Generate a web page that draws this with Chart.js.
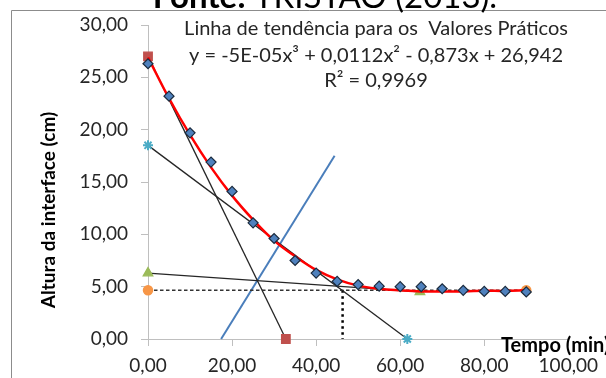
<!DOCTYPE html>
<html>
<head>
<meta charset="utf-8">
<script src="https://cdn.jsdelivr.net/npm/chart.js@4.4.0/dist/chart.umd.min.js"></script>
<style>
  body { margin: 0; background: #fff; }
</style>
</head>
<body>
<canvas id="sedimentacao" width="606" height="378"></canvas>
<script>
// Valores
var tempo = [0, 5, 10, 15, 20, 25, 30, 35, 40, 45, 50, 55, 60, 65, 70, 75, 80, 85, 90];
var altura = [26.3, 23.2, 19.7, 16.9, 14.1, 11.1, 9.6, 7.5, 6.3, 5.5, 5.2, 5.05, 5.0, 5.0, 4.8, 4.65, 4.55, 4.55, 4.5];
var tendencia = [26.9, 23.0, 19.5, 16.4, 13.7, 11.4, 9.4, 7.9, 6.6, 5.7, 5.1, 4.8, 4.65, 4.55, 4.55, 4.55, 4.6, 4.6, 4.65];

// Retas auxiliares (inicio, fim)
var tangSupX = [0, 32.8], tangSupY = [27.0, 0];
var tangMeioX = [0, 61.7], tangMeioY = [18.5, 0];
var tangInfX = [0, 64.7], tangInfY = [6.3, 4.5];
var alturaFinalX = [0, 90], alturaFinalY = [4.65, 4.65];
var tempoCritX = [46.3, 46.3], tempoCritY = [4.65, 0];
var bissetrizX = [17.4, 44.4], bissetrizY = [0, 17.5];

var xTicks = [0, 20, 40, 60, 80, 100];
var yTicks = [0, 5, 10, 15, 20, 25, 30];

function pontos(xs, ys) {
  var out = [];
  for (var i = 0; i < xs.length; i++) {
    out.push({ x: xs[i], y: ys[i] });
  }
  return out;
}

function virgula(v) {
  return v.toFixed(2).replace(".", ",");
}

Chart.defaults.font.family = "Lato";
Chart.defaults.color = "#262626";

// Textos do Excel: titulo cortado, equacao, titulos dos eixos e moldura
const textosExcel = {
  id: "textosExcel",
  beforeDraw(chart) {
    const ctx = chart.ctx;
    ctx.save();
    ctx.strokeStyle = "#8c8c8c";
    ctx.lineWidth = 1;
    ctx.beginPath();
    ctx.moveTo(11.5, 400);
    ctx.lineTo(11.5, 10.5);
    ctx.lineTo(620, 10.5);
    ctx.stroke();
    ctx.restore();
  },
  afterDraw(chart) {
    const ctx = chart.ctx;
    ctx.save();
    ctx.fillStyle = "#000";
    ctx.textBaseline = "alphabetic";

    // Fonte: TRISTAO (2013).
    ctx.font = "bold 33px Lato";
    var w1 = ctx.measureText("Fonte:").width;
    ctx.font = "33px Lato";
    var w2 = ctx.measureText(" TRISTÃO (2013).").width;
    var x0 = 325 - (w1 + w2) / 2;
    ctx.font = "bold 33px Lato";
    ctx.textAlign = "left";
    ctx.fillText("Fonte:", x0, 8);
    ctx.font = "33px Lato";
    ctx.fillText(" TRISTÃO (2013).", x0 + w1, 8);

    // Linha de tendencia
    ctx.fillStyle = "#262626";
    ctx.font = "20px Lato";
    ctx.textAlign = "center";
    ctx.fillText("Linha de tendência para os  Valores Práticos", 376, 35);
    ctx.fillText("y = -5E-05x³ + 0,0112x² - 0,873x + 26,942", 376, 62);
    ctx.fillText("R² = 0,9969", 376, 87);

    // Titulos dos eixos
    ctx.fillStyle = "#000";
    ctx.font = "bold 20px Lato";
    ctx.textAlign = "left";
    ctx.fillText("Tempo (min)", 501, 352);

    ctx.font = "bold 19px Lato";
    ctx.translate(55, 210);
    ctx.rotate(-Math.PI / 2);
    ctx.textAlign = "center";
    ctx.fillText("Altura da interface (cm)", 0, 0);
    ctx.restore();
  },
};

var ctx = document.getElementById("sedimentacao");
var grafico = new Chart(ctx, {
  type: "scatter",
  data: {
    datasets: [
      {
        label: "Valores Práticos",
        data: pontos(tempo, altura),
        pointStyle: "rectRot",
        pointRadius: 5,
        backgroundColor: "#4f81bd",
        borderColor: "#1a2a3d",
        borderWidth: 1.2,
        clip: false,
      },
      {
        label: "Tendência",
        data: pontos(tempo, tendencia),
        showLine: true,
        borderColor: "#ff0000",
        borderWidth: 2.5,
        pointRadius: 0,
        tension: 0.4,
        clip: false,
      },
      {
        label: "Tangente superior",
        data: pontos(tangSupX, tangSupY),
        showLine: true,
        borderColor: "#262626",
        borderWidth: 1.3,
        pointStyle: "rect",
        pointRadius: 6,
        pointBackgroundColor: "#c0504d",
        pointBorderColor: "#c0504d",
        clip: false,
      },
      {
        label: "Tangente meio",
        data: pontos(tangMeioX, tangMeioY),
        showLine: true,
        borderColor: "#262626",
        borderWidth: 1.3,
        pointStyle: "star",
        pointRadius: 5,
        pointBorderWidth: 2,
        pointBackgroundColor: "#4bacc6",
        pointBorderColor: "#4bacc6",
        clip: false,
      },
      {
        label: "Tangente inferior",
        data: pontos(tangInfX, tangInfY),
        showLine: true,
        borderColor: "#262626",
        borderWidth: 1.3,
        pointStyle: "triangle",
        pointRadius: 5.5,
        pointBackgroundColor: "#9bbb59",
        pointBorderColor: "#9bbb59",
        clip: false,
      },
      {
        label: "Altura final",
        data: pontos(alturaFinalX, alturaFinalY),
        showLine: true,
        borderColor: "#333333",
        borderWidth: 1.5,
        borderDash: [3.5, 2.5],
        pointStyle: "circle",
        pointRadius: 4.5,
        pointBackgroundColor: "#f79646",
        pointBorderColor: "#f79646",
        clip: false,
      },
      {
        label: "Tempo crítico",
        data: pontos(tempoCritX, tempoCritY),
        showLine: true,
        borderColor: "#000000",
        borderWidth: 2.5,
        borderDash: [2.5, 3.5],
        pointRadius: 0,
        clip: false,
      },
      {
        label: "Auxiliar",
        data: pontos(bissetrizX, bissetrizY),
        showLine: true,
        borderColor: "#4a7ebb",
        borderWidth: 2,
        pointRadius: 0,
        clip: false,
      },
    ],
  },
  options: {
    responsive: false,
    animation: false,
    events: [],
    layout: {
      padding: { left: 0, right: 29, top: 25, bottom: 0 },
    },
    plugins: {
      legend: { display: false },
      tooltip: { enabled: false },
      title: { display: false },
    },
    scales: {
      x: {
        type: "linear",
        min: 0,
        max: 100,
        afterBuildTicks: function (scale) {
          scale.ticks = xTicks.map(function (v) { return { value: v }; });
        },
        afterFit: function (scale) {
          scale.height = 39;
        },
        ticks: {
          font: { size: 19 },
          padding: 8,
          maxRotation: 0,
          callback: function (value) {
            return virgula(value);
          },
        },
        grid: {
          drawOnChartArea: false,
          tickLength: 7,
          color: "#bfbfbf",
        },
        border: { color: "#bfbfbf" },
      },
      y: {
        min: 0,
        max: 30,
        afterBuildTicks: function (scale) {
          scale.ticks = yTicks.map(function (v) { return { value: v }; });
        },
        afterFit: function (scale) {
          scale.width = 148;
        },
        ticks: {
          font: { size: 19 },
          padding: 13,
          callback: function (value) {
            return virgula(value);
          },
        },
        grid: {
          drawOnChartArea: false,
          tickLength: 7,
          color: "#bfbfbf",
        },
        border: { color: "#bfbfbf" },
      },
    },
  },
  plugins: [textosExcel],
});
</script>
</body>
</html>
